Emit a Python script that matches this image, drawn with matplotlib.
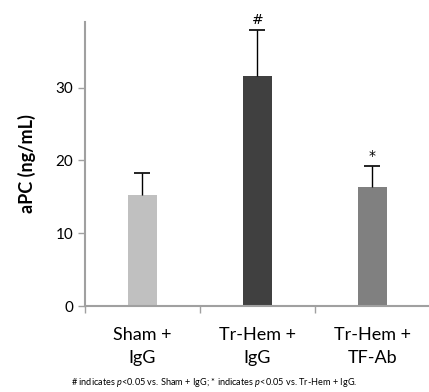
import numpy as np
import matplotlib.pyplot as plt

plt.rcParams['font.family'] = ['Lato', 'DejaVu Sans']
plt.rcParams['mathtext.fontset'] = 'custom'
plt.rcParams['mathtext.rm'] = 'Lato'
plt.rcParams['mathtext.it'] = 'Lato:italic'

groups = ['Sham +\nIgG', 'Tr-Hem +\nIgG', 'Tr-Hem +\nTF-Ab']
means = [15.3, 31.6, 16.3]
errors = [3.0, 6.3, 2.9]
marks = ['', '#', '*']
colors = ['#c0c0c0', '#404040', '#808080']

fig = plt.figure(figsize=(4.29, 3.92), dpi=100)
ax = fig.add_axes([0.198, 0.219, 0.804, 0.725])

x = np.arange(len(groups))
ax.bar(x, means, width=0.25, color=colors, zorder=2)
eb = ax.errorbar(x, means, yerr=[np.zeros(3), errors], fmt='none', ecolor='black',
                 elinewidth=1, capsize=6, capthick=1.2, zorder=3)
# hide the lower caps (zero-length lower error)
eb[1][0].set_visible(False)
for xi, m, e, s in zip(x, means, errors, marks):
    if s:
        ax.text(xi, m + e + 0.4, s, ha='center', va='bottom', fontsize=10,
                family='DejaVu Sans')

ax.set_xlim(-0.5, 2.5)
ax.set_ylim(0, 39)
ax.set_yticks([0, 10, 20, 30])
ax.set_xticks([-0.5, 0.5, 1.5], minor=False)
ax.set_xticklabels([])
ax.set_xticks(x, minor=True)
ax.set_xticklabels(groups, minor=True, fontsize=13, linespacing=1.55)
ax.tick_params(axis='x', which='minor', length=0, pad=15)
ax.tick_params(axis='x', which='major', length=5, color='#a0a0a0', width=1)
ax.tick_params(axis='y', length=5, color='#a0a0a0', width=1, labelsize=11)

for side in ['top', 'right']:
    ax.spines[side].set_visible(False)
for side in ['left', 'bottom']:
    ax.spines[side].set_color('#a0a0a0')
    ax.spines[side].set_linewidth(1.5)

ax.set_ylabel('aPC (ng/mL)', fontsize=13, fontweight='bold', labelpad=14)

fig.text(0.5, 0.023, r'# indicates $p$<0.05 vs. Sham + IgG; * indicates $p$<0.05 vs. Tr-Hem + IgG.',
         ha='center', va='center', fontsize=6.6)

fig.savefig('out.png', dpi=100)
